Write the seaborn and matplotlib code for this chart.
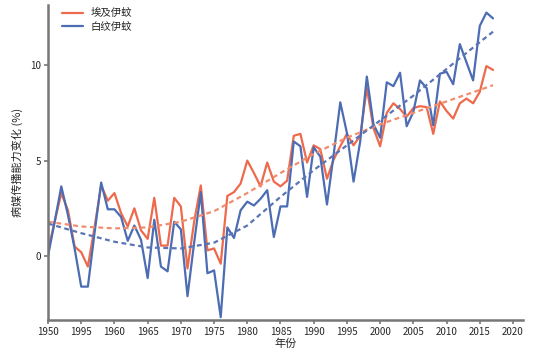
import pandas as pd
import numpy as np
import matplotlib
matplotlib.use("Agg")
import matplotlib.pyplot as plt
import seaborn as sns

# Data (change in vector capacity, %)
years = list(range(1950, 2018))
aegypti = [0.3, 1.8, 3.3, 2.4, 0.5, 0.2, -0.55, 1.5, 3.7, 2.9,
           3.3, 2.25, 1.55, 2.5, 1.35, 0.9, 3.05, 0.55, 0.55, 3.05,
           2.6, -0.65, 1.8, 3.7, 0.3, 0.4, -0.4, 3.15, 3.35, 3.8,
           5.0, 4.35, 3.65, 4.9, 3.9, 3.65, 3.95, 6.3, 6.4, 4.9,
           5.8, 5.6, 4.05, 5.05, 5.75, 6.4, 5.8, 6.3, 8.8, 6.7,
           5.75, 7.5, 8.0, 7.7, 7.3, 7.75, 7.85, 7.8, 6.4, 8.1,
           7.6, 7.2, 8.0, 8.25, 8.0, 8.6, 9.95, 9.75]
albopictus = [0.0, 1.8, 3.65, 2.15, 0.4, -1.6, -1.6, 1.2, 3.85, 2.45,
              2.45, 2.05, 0.8, 1.6, 0.85, -1.15, 1.9, -0.55, -0.8, 1.8,
              1.4, -2.1, 0.7, 3.35, -0.9, -0.75, -3.2, 1.5, 0.95, 2.4,
              2.85, 2.65, 3.0, 3.45, 1.0, 2.6, 2.6, 6.0, 5.75, 3.1,
              5.7, 5.2, 2.7, 5.3, 8.05, 6.45, 3.9, 6.0, 9.4, 6.9,
              6.2, 9.1, 8.9, 9.6, 6.8, 7.55, 9.2, 8.8, 6.85, 9.55,
              9.65, 9.0, 11.1, 10.15, 9.2, 12.05, 12.75, 12.45]

# Dashed trend curves
trend_years = [1950, 1955, 1960, 1965, 1970, 1975, 1980, 1985,
               1990, 1995, 2000, 2005, 2010, 2015, 2017]
aegypti_trend = [1.8, 1.55, 1.45, 1.5, 1.8, 2.35, 3.3, 4.35,
                 5.35, 6.2, 6.9, 7.5, 8.1, 8.7, 8.95]
albopictus_trend = [1.7, 1.2, 0.75, 0.45, 0.4, 0.7, 1.6, 3.1,
                    4.5, 5.8, 7.1, 8.4, 9.8, 11.2, 11.75]

species = ["埃及伊蚊", "白纹伊蚊"]
tick_years = [1950, 1955, 1960, 1965, 1970, 1975, 1980, 1985, 1990,
              1995, 2000, 2005, 2010, 2015, 2020]
tick_labels = ["1950", "1995", "1960", "1965", "1970", "1975", "1980", "1985",
               "1990", "1995", "2000", "2005", "2010", "2015", "2020"]

ORANGE = "#ee6a4c"
BLUE = "#4c6cb3"
ORANGE_TREND = "#f08c70"
BLUE_TREND = "#5a74b4"

sns.set_theme(style="white")
plt.rcParams["font.family"] = ["Noto Sans CJK SC", "DejaVu Sans"]
plt.rcParams["axes.unicode_minus"] = False

df = pd.DataFrame({
    "year": years * 2,
    "value": aegypti + albopictus,
    "species": [species[0]] * len(years) + [species[1]] * len(years),
})
trend = pd.DataFrame({
    "year": trend_years * 2,
    "value": aegypti_trend + albopictus_trend,
    "species": [species[0]] * len(trend_years) + [species[1]] * len(trend_years),
})

fig = plt.figure(figsize=(5.36, 3.56), dpi=100)
ax = fig.add_axes([0.0896, 0.101, 0.886, 0.885])

sns.lineplot(data=df, x="year", y="value", hue="species",
             palette={species[0]: ORANGE, species[1]: BLUE},
             linewidth=1.6, ax=ax)
sns.lineplot(data=trend, x="year", y="value", hue="species",
             palette={species[0]: ORANGE_TREND, species[1]: BLUE_TREND},
             linewidth=1.6, linestyle=(0, (2.2, 1.6)), legend=False, ax=ax)

ax.set_xlim(1950, 2021.5)
ax.set_ylim(-3.35, 13.15)
ax.set_xticks(tick_years)
ax.set_xticklabels(tick_labels)
ax.set_yticks([0, 5, 10])
ax.tick_params(axis="both", labelsize=7, length=3, width=1.2,
               color="#777777", direction="out", pad=2)
ax.tick_params(axis="both", bottom=True, left=True)

for side in ["top", "right"]:
    ax.spines[side].set_visible(False)
for side in ["left", "bottom"]:
    ax.spines[side].set_color("#777777")
    ax.spines[side].set_linewidth(1.8)

ax.set_xlabel("年份", fontsize=8, labelpad=1)
ax.set_ylabel("病媒传播能力变化 (%)", fontsize=8, labelpad=5)

leg = ax.legend(loc="upper left", bbox_to_anchor=(0.01, 1.02), frameon=False,
                fontsize=7.5, handlelength=2.0, handletextpad=0.7,
                labelspacing=0.35)

fig.savefig("out.png", dpi=100)
